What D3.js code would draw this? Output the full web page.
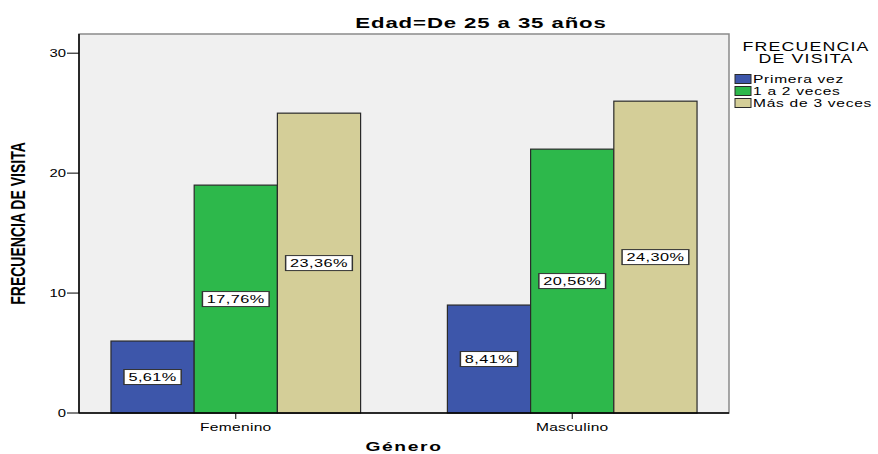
<!DOCTYPE html>
<html>
<head>
<meta charset="utf-8">
<script src="https://cdn.jsdelivr.net/npm/d3@7"></script>
<style>
  body { margin: 0; background: #fff; }
  text { font-family: "Liberation Sans", Arial, sans-serif; fill: #000; }
</style>
</head>
<body>
<svg id="chart" width="878" height="454"></svg>
<script>
"use strict";

// data
const categories = ["Femenino", "Masculino"];
const seriesNames = ["Primera vez", "1 a 2 veces", "Más de 3 veces"];
const primeraVez = [6, 9];
const unoADosVeces = [19, 22];
const masDeTresVeces = [25, 26];
const yTicks = [0, 10, 20, 30];
const colors = ["#3d56aa", "#2db84b", "#d4ce98"];

const seriesValues = [primeraVez, unoADosVeces, masDeTresVeces];
const total = d3.sum(seriesValues, s => d3.sum(s));

// the original picture is stretched horizontally, so text is too
const SX = 1.48;

const svg = d3.select("#chart");
const plot = { left: 79, right: 729, top: 34, bottom: 413 };

let x0 = d3.scaleBand()
    .domain(categories)
    .range([plot.left, plot.right])
    .paddingInner(0.258)
    .paddingOuter(0.095);

let x1 = d3.scaleBand()
    .domain(seriesNames)
    .range([0, x0.bandwidth()]);

let y = d3.scaleLinear()
    .domain([0, 31.6])
    .range([plot.bottom, plot.top]);

function stretchedText(parent, x, yPos, str) {
    return parent.append("text")
        .attr("transform", `translate(${x},${yPos}) scale(${SX},1)`)
        .text(str);
}

// plot background + frame
svg.append("rect")
    .attr("x", plot.left)
    .attr("y", plot.top)
    .attr("width", plot.right - plot.left)
    .attr("height", plot.bottom - plot.top)
    .style("fill", "#f0f0f0")
    .style("stroke", "#8a8a8a")
    .style("stroke-width", 1.5);

// bars
let rows = [];
categories.forEach((c, i) => {
    seriesNames.forEach((s, j) => {
        rows.push({ cat: c, ser: s, idx: j, value: seriesValues[j][i] });
    });
});

svg.append("g").selectAll("rect")
    .data(rows)
    .enter().append("rect")
    .attr("x", d => x0(d.cat) + x1(d.ser))
    .attr("y", d => y(d.value))
    .attr("width", x1.bandwidth())
    .attr("height", d => y(0) - y(d.value))
    .style("fill", d => colors[d.idx])
    .style("stroke", "#2a2a2a")
    .style("stroke-width", 1.2);

// percentage labels in the middle of each bar
let labels = svg.append("g").selectAll("g")
    .data(rows)
    .enter().append("g")
    .attr("transform", d => `translate(${x0(d.cat) + x1(d.ser) + x1.bandwidth() / 2},${(y(0) + y(d.value)) / 2}) scale(${SX},1)`);

labels.each(function(d) {
    let g = d3.select(this);
    let rect = g.append("rect");
    let t = g.append("text")
        .attr("text-anchor", "middle")
        .attr("dy", "0.36em")
        .style("font-size", "11px")
        .style("letter-spacing", "0.3px")
        .text((d.value / total * 100).toFixed(2).replace(".", ",") + "%");
    let w = t.node().getComputedTextLength() + 6;
    rect.attr("x", -w / 2)
        .attr("y", -7.5)
        .attr("width", w)
        .attr("height", 15)
        .style("fill", "#fff")
        .style("stroke", "#333")
        .style("stroke-width", 1);
});

// axes lines
svg.append("line")
    .attr("x1", plot.left).attr("x2", plot.left)
    .attr("y1", plot.top).attr("y2", plot.bottom)
    .style("stroke", "#000").style("stroke-width", 1.5);
svg.append("line")
    .attr("x1", plot.left).attr("x2", plot.right)
    .attr("y1", plot.bottom).attr("y2", plot.bottom)
    .style("stroke", "#000").style("stroke-width", 1.5);

// y ticks
let yAxis = svg.append("g");
yTicks.forEach(v => {
    yAxis.append("line")
        .attr("x1", plot.left - 12).attr("x2", plot.left)
        .attr("y1", y(v)).attr("y2", y(v))
        .style("stroke", "#000");
    stretchedText(yAxis, plot.left - 13, y(v), v)
        .attr("text-anchor", "end")
        .attr("dy", "0.35em")
        .style("font-size", "10px");
});

// x ticks
let xAxis = svg.append("g");
categories.forEach(c => {
    let cx = x0(c) + x0.bandwidth() / 2;
    xAxis.append("line")
        .attr("x1", cx).attr("x2", cx)
        .attr("y1", plot.bottom).attr("y2", plot.bottom + 6)
        .style("stroke", "#000");
    stretchedText(xAxis, cx, plot.bottom + 18, c)
        .attr("text-anchor", "middle")
        .style("font-size", "10.5px")
        .style("letter-spacing", "0.2px");
});

// titles
stretchedText(svg, 481, 28, "Edad=De 25 a 35 años")
    .attr("text-anchor", "middle")
    .style("font-size", "15px")
    .style("font-weight", "bold")
    .style("letter-spacing", "0.6px");

stretchedText(svg, (plot.left + plot.right) / 2, 451, "Género")
    .attr("text-anchor", "middle")
    .style("font-size", "13px")
    .style("font-weight", "bold")
    .style("letter-spacing", "1.1px");

svg.append("text")
    .attr("transform", `translate(25,${(plot.top + plot.bottom) / 2}) scale(${SX},1) rotate(-90)`)
    .attr("text-anchor", "middle")
    .style("font-size", "14px")
    .style("font-weight", "bold")
    .text("FRECUENCIA DE VISITA");

// legend
let legend = svg.append("g");
stretchedText(legend, 806, 51, "FRECUENCIA")
    .attr("text-anchor", "middle")
    .style("font-size", "12px")
    .style("letter-spacing", "0.8px");
stretchedText(legend, 806, 63, "DE VISITA")
    .attr("text-anchor", "middle")
    .style("font-size", "12px")
    .style("letter-spacing", "0.8px");

seriesNames.forEach((s, j) => {
    let ly = 79 + j * 12;
    legend.append("rect")
        .attr("x", 735)
        .attr("y", ly - 4.5)
        .attr("width", 16)
        .attr("height", 9)
        .style("fill", colors[j])
        .style("stroke", "#2a2a2a")
        .style("stroke-width", 1);
    stretchedText(legend, 753, ly, s)
        .attr("dy", "0.35em")
        .style("font-size", "10.5px")
        .style("letter-spacing", "0.5px");
});
</script>
</body>
</html>
